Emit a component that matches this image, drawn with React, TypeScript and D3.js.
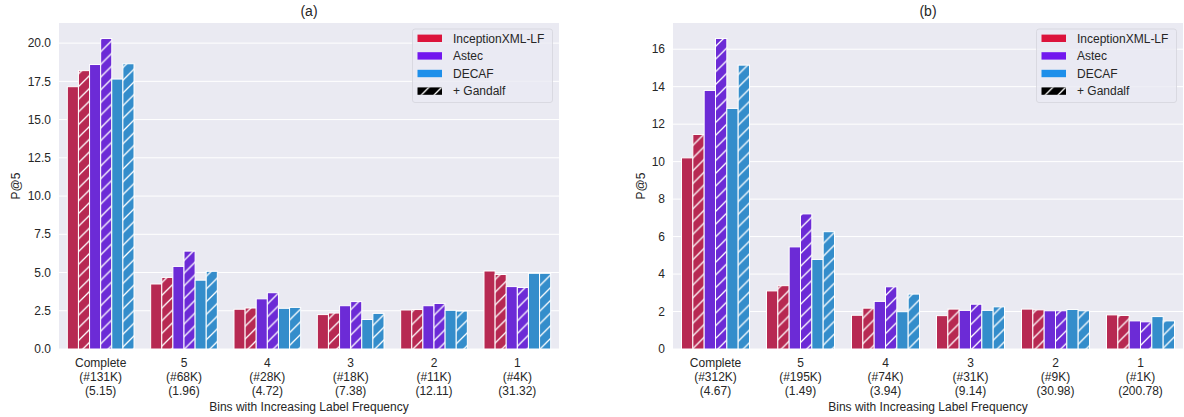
import { useEffect, useRef } from "react";
import * as d3 from "d3";

const seriesNames = ["InceptionXML-LF", "InceptionXML-LF + Gandalf", "Astec", "Astec + Gandalf", "DECAF", "DECAF + Gandalf"];
const seriesHatched = [false, true, false, true, false, true];
const barColors = ["#b72952", "#b72952", "#6c2bd6", "#6c2bd6", "#348dcb", "#348dcb"];

const legendNames = ["InceptionXML-LF", "Astec", "DECAF", "+ Gandalf"];
const legendColors = ["#dc143c", "#7217ee", "#1e8fea", "#000000"];

const binsA = ["Complete", "5", "4", "3", "2", "1"];
const countsA = ["(#131K)", "(#68K)", "(#28K)", "(#18K)", "(#11K)", "(#4K)"];
const avgA = ["(5.15)", "(1.96)", "(4.72)", "(7.38)", "(12.11)", "(31.32)"];
const valuesA = [
  [17.15, 4.25, 2.6, 2.25, 2.55, 5.1],
  [18.2, 4.68, 2.68, 2.35, 2.58, 4.87],
  [18.6, 5.4, 3.28, 2.83, 2.83, 4.08],
  [20.3, 6.4, 3.68, 3.1, 2.98, 4.02],
  [17.65, 4.5, 2.66, 1.93, 2.53, 4.95],
  [18.65, 5.08, 2.72, 2.33, 2.48, 4.95],
];
const ticksA = [0, 2.5, 5, 7.5, 10, 12.5, 15, 17.5, 20];

const binsB = ["Complete", "5", "4", "3", "2", "1"];
const countsB = ["(#312K)", "(#195K)", "(#74K)", "(#31K)", "(#9K)", "(#1K)"];
const avgB = ["(4.67)", "(1.49)", "(3.94)", "(9.14)", "(30.98)", "(200.78)"];
const valuesB = [
  [10.2, 3.1, 1.8, 1.78, 2.13, 1.82],
  [11.45, 3.38, 2.18, 2.13, 2.09, 1.79],
  [13.8, 5.45, 2.54, 2.06, 2.04, 1.5],
  [16.57, 7.21, 3.32, 2.39, 2.04, 1.45],
  [12.84, 4.78, 1.99, 2.06, 2.11, 1.73],
  [15.15, 6.26, 2.93, 2.25, 2.04, 1.5],
];
const ticksB = [0, 2, 4, 6, 8, 10, 12, 14, 16];

const FONT = "'Liberation Sans', Arial, sans-serif";
const TXT = "#262626";

function App() {
  const ref = useRef<SVGSVGElement>(null);

  useEffect(() => {
    draw();
    // eslint-disable-next-line
  }, []);

  function draw() {
    const svg = d3.select(ref.current);
    svg.selectAll("*").remove();

    const defs = svg.append("defs");
    const hs = 12.7;
    const pat = defs.append("pattern")
      .attr("id", "hatch")
      .attr("patternUnits", "userSpaceOnUse")
      .attr("width", hs)
      .attr("height", hs);
    pat.append("path")
      .attr("d", `M0,${hs} L${hs},0 M${-hs / 2},${hs / 2} L${hs / 2},${-hs / 2} M${hs / 2},${hs * 1.5} L${hs * 1.5},${hs / 2}`)
      .attr("stroke", "white")
      .attr("stroke-width", 1.3);

    const panels = [
      { title: "(a)", left: 59, right: 559, bins: binsA, counts: countsA, avg: avgA, values: valuesA, ticks: ticksA, fmt: d3.format(".1f"), ylabelX: 16, legendX: 412.5 },
      { title: "(b)", left: 673, right: 1183, bins: binsB, counts: countsB, avg: avgB, values: valuesB, ticks: ticksB, fmt: d3.format("d"), ylabelX: 641, legendX: 1036.5 },
    ];
    const top = 23;
    const bottom = 349;

    panels.forEach(p => {
      const g = svg.append("g");
      const maxV = d3.max(p.values.flat()) as number;
      const y = d3.scaleLinear().domain([0, maxV * 1.05]).range([bottom, top]);
      const x = d3.scaleBand().domain(p.bins).range([p.left, p.right]).paddingInner(0).paddingOuter(0);
      const inner = d3.scaleBand().domain(seriesNames).range([0, x.bandwidth() * 0.8]);
      const off = x.bandwidth() * 0.1;

      g.append("rect")
        .attr("x", p.left).attr("y", top)
        .attr("width", p.right - p.left).attr("height", bottom - top)
        .attr("fill", "#eaeaf2");

      g.selectAll(".grid")
        .data(p.ticks)
        .enter()
        .append("line")
        .attr("x1", p.left).attr("x2", p.right)
        .attr("y1", d => y(d)).attr("y2", d => y(d))
        .attr("stroke", "white").attr("stroke-width", 1);

      g.selectAll(".ytick")
        .data(p.ticks)
        .enter()
        .append("text")
        .attr("x", p.left - 8)
        .attr("y", d => y(d))
        .attr("dy", "0.35em")
        .attr("text-anchor", "end")
        .attr("font-size", 12)
        .attr("font-family", FONT)
        .attr("fill", TXT)
        .text(d => p.fmt(d));

      seriesNames.forEach((s, si) => {
        const bars = g.selectAll(`.bar${si}`)
          .data(p.values[si])
          .enter();
        bars.append("rect")
          .attr("x", (d, i) => (x(p.bins[i]) as number) + off + (inner(s) as number))
          .attr("y", d => y(d))
          .attr("width", inner.bandwidth())
          .attr("height", d => bottom - y(d))
          .attr("fill", barColors[si]);
        if (seriesHatched[si]) {
          bars.append("rect")
            .attr("x", (d, i) => (x(p.bins[i]) as number) + off + (inner(s) as number))
            .attr("y", d => y(d))
            .attr("width", inner.bandwidth())
            .attr("height", d => bottom - y(d))
            .attr("fill", "url(#hatch)");
        }
        bars.append("rect")
          .attr("x", (d, i) => (x(p.bins[i]) as number) + off + (inner(s) as number))
          .attr("y", d => y(d))
          .attr("width", inner.bandwidth())
          .attr("height", d => bottom - y(d))
          .attr("fill", "none")
          .attr("stroke", "white")
          .attr("stroke-width", 1);
      });

      const xl = g.selectAll(".xtick")
        .data(p.bins)
        .enter()
        .append("text")
        .attr("text-anchor", "middle")
        .attr("font-size", 12)
        .attr("font-family", FONT)
        .attr("fill", TXT);
      xl.append("tspan").attr("x", d => (x(d) as number) + x.bandwidth() / 2).attr("y", 367).text(d => d);
      xl.append("tspan").attr("x", d => (x(d) as number) + x.bandwidth() / 2).attr("y", 381).text((d, i) => p.counts[i]);
      xl.append("tspan").attr("x", d => (x(d) as number) + x.bandwidth() / 2).attr("y", 395).text((d, i) => p.avg[i]);

      g.append("text")
        .attr("x", (p.left + p.right) / 2).attr("y", 411)
        .attr("text-anchor", "middle")
        .attr("font-size", 12).attr("font-family", FONT).attr("fill", TXT)
        .text("Bins with Increasing Label Frequency");

      g.append("text")
        .attr("transform", `translate(${p.ylabelX},${(top + bottom) / 2}) rotate(-90)`)
        .attr("dy", "0.35em")
        .attr("text-anchor", "middle")
        .attr("font-size", 12).attr("font-family", FONT).attr("fill", TXT)
        .text("P@5");

      g.append("text")
        .attr("x", (p.left + p.right) / 2).attr("y", 16)
        .attr("text-anchor", "middle")
        .attr("font-size", 14).attr("font-family", FONT).attr("fill", TXT)
        .text(p.title);

      // legend
      const lg = g.append("g").attr("transform", `translate(${p.legendX},29)`);
      lg.append("rect")
        .attr("width", 140).attr("height", 73.5)
        .attr("rx", 2.5)
        .attr("fill", "#eaeaf2").attr("fill-opacity", 0.8)
        .attr("stroke", "#d4d4dc").attr("stroke-width", 0.8);
      const rows = lg.selectAll(".lrow")
        .data(legendNames)
        .enter()
        .append("g")
        .attr("transform", (d, i) => `translate(0,${9.3 + i * 17.6})`);
      rows.append("rect")
        .attr("x", 5).attr("y", -3.7)
        .attr("width", 24.5).attr("height", 7.4)
        .attr("fill", (d, i) => legendColors[i]);
      rows.filter((d, i) => i === 3)
        .append("rect")
        .attr("x", 5).attr("y", -3.7)
        .attr("width", 24.5).attr("height", 7.4)
        .attr("fill", "url(#hatch)");
      rows.append("text")
        .attr("x", 40.5)
        .attr("dy", "0.35em")
        .attr("font-size", 12).attr("font-family", FONT).attr("fill", TXT)
        .text(d => d);
    });
  }

  return (
    <div>
      <svg ref={ref} width={1184} height={417} style={{ position: "absolute", left: 0, top: 0, background: "white" }}>
      </svg>
    </div>
  );
}

export default App;
